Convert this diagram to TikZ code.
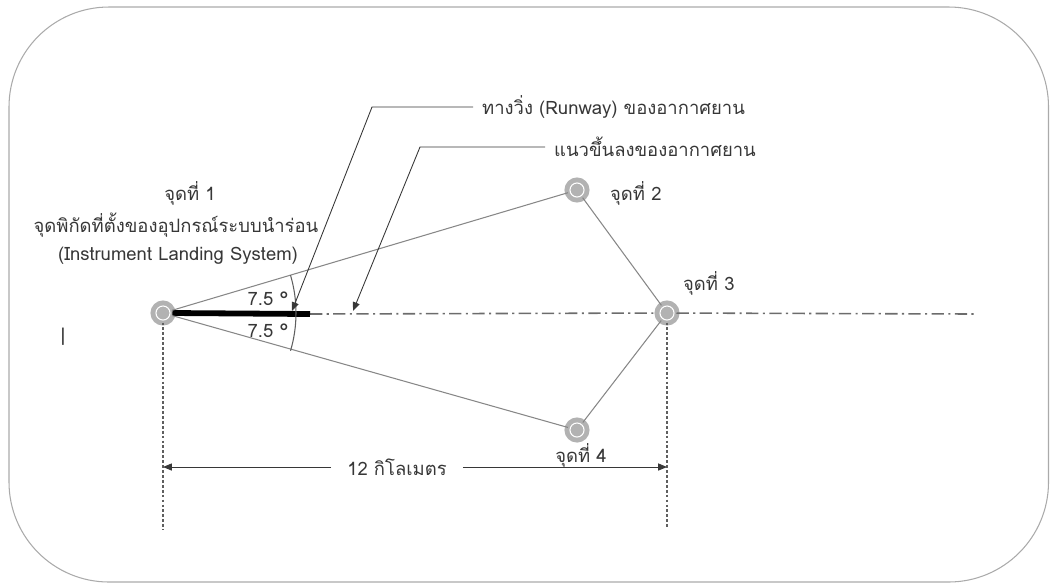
\documentclass[tikz,border=0pt]{standalone}
\usepackage{fontspec}
\setmainfont[Script=Thai]{Loma}
\usepackage{tikz}
\usetikzlibrary{calc, positioning, arrows.meta}
\definecolor{InkGrey}{RGB}{55, 55, 55}
\definecolor{LineGrey}{RGB}{135, 135, 135}
\definecolor{RingGrey}{RGB}{178, 178, 178}
\definecolor{FrameGrey}{RGB}{170, 170, 170}

\tikzset{
  station/.style={circle, minimum size=8pt, inner sep=0pt, fill=RingGrey, draw=RingGrey,
    line width=2.8pt, double=white, double distance=0.6pt},
  lbl/.style={text=InkGrey, font=\fontsize{10.5}{12}\selectfont, inner sep=1pt},
  edge/.style={LineGrey, line width=0.6pt},
  leader/.style={InkGrey, line width=0.5pt, -{Triangle[length=5pt, width=4pt]}},
  axisline/.style={LineGrey!80!black, line width=0.9pt, dash pattern=on 7pt off 2.5pt on 1.2pt off 2.5pt},
  guide/.style={InkGrey!80, line width=0.6pt, dash pattern=on 1.6pt off 1.2pt},
  dim/.style={InkGrey, line width=0.5pt, -{Triangle[length=5pt, width=4pt]}}
}

\begin{document}
\begin{tikzpicture}[x=0.02cm, y=-0.02cm]
    \useasboundingbox (0,0) rectangle (1050,583);
    % Grenzrahmen
    \draw[FrameGrey, line width=0.6pt, rounded corners=2cm] (9,7) rectangle (1048.5,582);

    % Punkte
    \node[station] (p1) at (163,313) {};
    \node[station] (p2) at (577,190) {};
    \node[station] (p3) at (667,313) {};
    \node[station] (p4) at (577,430) {};
    \coordinate (rwyend) at (310,314);
    \coordinate (axisend) at (975,314);

    % Mittellinie und Landebahn
    \draw[axisline] (rwyend) -- (p3);
    \draw[axisline] (p3) -- (axisend);
    \draw[black, line width=3.3pt] (p1.east) -- (rwyend);

    % Verbindungen
    \draw[edge] (p1) -- (p2);
    \draw[edge] (p1) -- (p4);
    \draw[edge] (p2) -- (p3);
    \draw[edge] (p3) -- (p4);

    % Winkel
    \draw[edge, InkGrey!80] ([shift={(16.5:133)}]p1.center) arc[start angle=16.5, end angle=-16.5, radius=133];
    \node[lbl] (angup) at (268,299) {7.5 °};
    \node[lbl] (angdn) at (268,331) {7.5 °};

    % Beschriftungen
    \node[lbl] (p1name) at (190,193) {จุดที่ 1};
    \node[lbl] (p1desc) at (176,225) {จุดพิกัดที่ตั้งของอุปกรณ์ระบบนำร่อน};
    \node[lbl] (p1ils) at (178,256) {(Instrument Landing System)};
    \node[lbl, anchor=west] (p2name) at (608,193) {จุดที่ 2};
    \node[lbl, anchor=west] (p3name) at (681,283) {จุดที่ 3};
    \node[lbl] (p4name) at (581,455) {จุดที่ 4};
    \node[lbl] (mark) at (63,337) {|};

    % Hinweislinien
    \node[lbl, anchor=west, inner sep=5pt] (rwylbl) at (473,107) {ทางวิ่ง (Runway) ของอากาศยาน};
    \node[lbl, anchor=west, inner sep=5pt] (axislbl) at (545,147) {แนวขึ้นลงของอากาศยาน};
    \coordinate (rwyknee) at (372,107);
    \coordinate (axisknee) at (420,147);
    \coordinate (rwytip) at (292,311);
    \coordinate (axistip) at (353,311);
    \draw[leader] (rwylbl.west) -- (rwyknee) -- (rwytip);
    \draw[leader] (axislbl.west) -- (axisknee) -- (axistip);

    % Abstand
    \coordinate (dimleft) at (163,530);
    \coordinate (dimright) at (667,527);
    \draw[guide] (p1.south) -- (dimleft);
    \draw[guide] (p3.south) -- (dimright);
    \node[lbl, inner xsep=9pt] (dist) at (397,467) {12 กิโลเมตร};
    \draw[dim] (dist.west) -- (163,467);
    \draw[dim] (dist.east) -- (667,467);
\end{tikzpicture}
\end{document}
